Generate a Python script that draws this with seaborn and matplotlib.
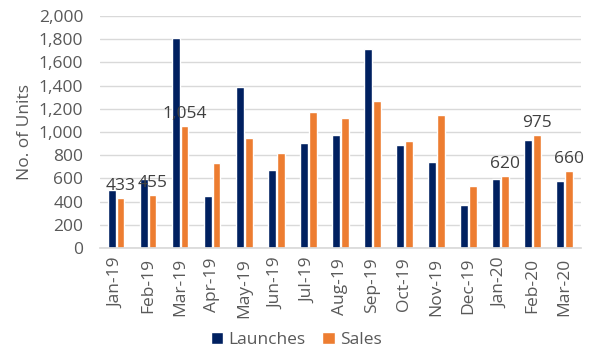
import matplotlib
matplotlib.use("Agg")
import matplotlib.pyplot as plt
import seaborn as sns
import pandas as pd
from matplotlib.patches import Patch

months = ["Jan-19", "Feb-19", "Mar-19", "Apr-19", "May-19", "Jun-19", "Jul-19",
          "Aug-19", "Sep-19", "Oct-19", "Nov-19", "Dec-19", "Jan-20", "Feb-20", "Mar-20"]
launches = [500, 598, 1810, 446, 1391, 670, 909, 975, 1711, 890, 739, 368, 597, 931, 578]
sales = [433, 455, 1054, 735, 948, 816, 1175, 1118, 1265, 920, 1142, 535, 620, 975, 660]
labelled_months = ["Jan-19", "Feb-19", "Mar-19", "Jan-20", "Feb-20", "Mar-20"]
series_names = ["Launches", "Sales"]
colors = ["#002060", "#ED7D31"]

df = pd.DataFrame({
    "Month": months * 2,
    "Units": launches + sales,
    "Series": ["Launches"] * len(months) + ["Sales"] * len(months),
})

sns.set_theme(style="white")
plt.rcParams["font.family"] = ["Open Sans", "DejaVu Sans"]

fig = plt.figure(figsize=(5.92, 3.6), dpi=100)
ax = fig.add_axes([0.169, 0.311, 0.812, 0.645])

sns.barplot(data=df, x="Month", y="Units", hue="Series", order=months,
            hue_order=series_names, palette=colors, width=0.55, gap=0.12,
            saturation=1, ax=ax, legend=False)

ax.set_ylim(0, 2000)
ax.set_yticks(range(0, 2001, 200))
ax.set_yticklabels([f"{v:,}" for v in range(0, 2001, 200)])
ax.set_xlim(-0.5, len(months) - 0.5)
ax.yaxis.grid(True, color="#d9d9d9", linewidth=1)
ax.set_axisbelow(True)
for s in ["top", "right", "left"]:
    ax.spines[s].set_visible(False)
ax.spines["bottom"].set_color("#d9d9d9")
ax.tick_params(axis="both", length=0, labelsize=12.5, colors="#595959")
ax.tick_params(axis="y", pad=12)
ax.tick_params(axis="x", rotation=90, pad=7)
ax.set_xlabel("")
ax.set_ylabel("No. of Units", fontsize=12.5, color="#595959", labelpad=4)

# data labels on selected sales bars
sales_bars = ax.containers[1]
for i, m in enumerate(months):
    if m in labelled_months:
        bar = sales_bars[i]
        x = bar.get_x() + bar.get_width() / 2
        y = bar.get_height()
        ax.annotate(f"{sales[i]:,}", (x, y), xytext=(0, 3), textcoords="offset points",
                    ha="center", va="bottom", fontsize=12.5, color="#404040")

handles = [Patch(facecolor=c, label=n) for c, n in zip(colors, series_names)]
fig.legend(handles=handles, loc="center", bbox_to_anchor=(0.5, 0.055), ncol=2,
           frameon=False, fontsize=12.5, handlelength=0.7, handleheight=0.7,
           handletextpad=0.3, columnspacing=1.0, labelcolor="#595959")

fig.savefig("out.png", dpi=100)
